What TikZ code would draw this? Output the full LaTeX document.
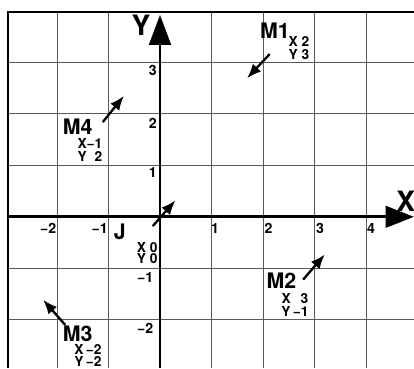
\documentclass[tikz,border=0pt]{standalone}
\usepackage{fontspec}
\setmainfont{TeX Gyre Heros}
\usetikzlibrary{arrows.meta}
\begin{document}
\begin{tikzpicture}[x=1cm,y=1cm,
 gridline/.style={line width=0.5pt, black!65},
 frame/.style={line width=1.1pt},
 axis/.style={line width=1.5pt},
 vec/.style={line width=1.3pt, -{Latex[length=2.8mm,width=2.2mm]}},
 tick/.style={font=\bfseries\fontsize{7.8}{8}\selectfont, inner sep=0pt},
 mlabel/.style={font=\bfseries\fontsize{11.8}{12}\selectfont, inner sep=0pt},
 coord/.style={font=\bfseries\fontsize{7.6}{8}\selectfont, inner sep=0pt},
 axlabel/.style={font=\bfseries\fontsize{15.5}{16}\selectfont, inner sep=0pt}]
\useasboundingbox (-3.107,-2.94) rectangle (4.932,4.21);
% grid
\foreach \x in {-2,-1,1,2,3,4} \draw[gridline] (\x,-2.94) -- (\x,3.98);
\foreach \y in {-2,-1,1,2,3} \draw[gridline] (-2.96,\y) -- (4.932,\y);
% frame
\coordinate (fbl) at (-2.96,-2.94);
\coordinate (ftl) at (-2.96,3.98);
\coordinate (ftr) at (4.932,3.98);
\draw[frame] (fbl) -- (ftl) -- (ftr);
% axes
\coordinate (xs) at (-2.96,0);
\coordinate (xe) at (4.93,0);
\coordinate (ys) at (0,-2.94);
\coordinate (ye) at (0,3.92);
\draw[axis, -{Triangle[length=5.5mm,width=4.2mm]}] (xs) -- (xe);
\draw[axis, -{Triangle[length=5.8mm,width=4.2mm]}] (ys) -- (ye);
\node[axlabel] (xl) at (4.77,0.31) {X};
\node[axlabel] (yl) at (-0.37,3.72) {Y};
% ticks
\node[tick] (t1) at (1.07,-0.22) {1};
\node[tick] (t2) at (2.11,-0.22) {2};
\node[tick] (t3) at (3.11,-0.22) {3};
\node[tick] (t4) at (4.1,-0.22) {4};
\node[tick] (tm1) at (-1.17,-0.22) {\textminus1};
\node[tick] (tm2) at (-2.17,-0.22) {\textminus2};
\node[tick] (u3) at (-0.14,2.84) {3};
\node[tick] (u2) at (-0.14,1.82) {2};
\node[tick] (u1) at (-0.14,0.86) {1};
\node[tick] (um1) at (-0.29,-1.18) {\textminus1};
\node[tick] (um2) at (-0.29,-2.16) {\textminus2};
% J
\coordinate (ja) at (-0.14,-0.18);
\coordinate (jb) at (0.3,0.32);
\draw[vec] (ja) -- (jb);
\node[mlabel] (J) at (-0.78,-0.3) {J};
\node[coord] (jx) at (-0.25,-0.59) {X 0};
\node[coord] (jy) at (-0.25,-0.82) {Y 0};
% M1
\coordinate (m1a) at (2.13,3.16);
\coordinate (m1b) at (1.69,2.69);
\draw[vec] (m1a) -- (m1b);
\node[mlabel] (M1) at (2.23,3.62) {M1};
\node[coord] (m1x) at (2.7,3.41) {X 2};
\node[coord] (m1y) at (2.7,3.16) {Y 3};
% M4
\coordinate (m4a) at (-1.11,1.84);
\coordinate (m4b) at (-0.7,2.35);
\draw[vec] (m4a) -- (m4b);
\node[mlabel] (M4) at (-1.6,1.75) {M4};
\node[coord] (m4x) at (-1.36,1.43) {X\textminus1};
\node[coord] (m4y) at (-1.36,1.18) {Y\ \ 2};
% M3
\coordinate (m3a) at (-1.84,-2.1);
\coordinate (m3b) at (-2.27,-1.61);
\draw[vec] (m3a) -- (m3b);
\node[mlabel] (M3) at (-1.6,-2.28) {M3};
\node[coord] (m3x) at (-1.4,-2.575) {X\,\textminus2};
\node[coord] (m3y) at (-1.4,-2.80) {Y\,\textminus2};
% M2
\coordinate (m2a) at (2.78,-1.22);
\coordinate (m2b) at (3.2,-0.73);
\draw[vec] (m2a) -- (m2b);
\node[mlabel] (M2) at (2.36,-1.25) {M2};
\node[coord] (m2x) at (2.62,-1.58) {X\ \ \,3};
\node[coord] (m2y) at (2.62,-1.84) {Y\,\textminus1};
\end{tikzpicture}
\end{document}
